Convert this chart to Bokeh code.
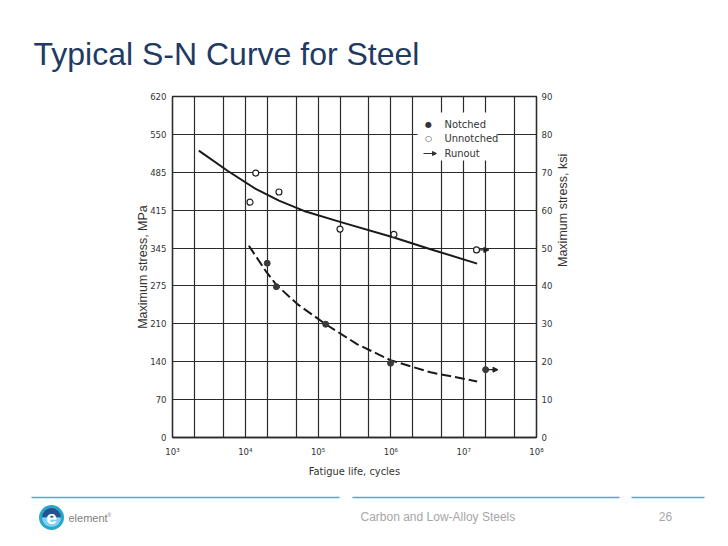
import math

from bokeh.plotting import figure
from bokeh.layouts import column
from bokeh.core.properties import value
from bokeh.models import (Range1d, FixedTicker, LinearAxis, Label, Arrow,
                          NormalHead, BoxAnnotation, ColumnDataSource)
from bokeh.embed import file_html
from bokeh.resources import INLINE

# S-N test results, stress in ksi (left axis shows the MPa equivalents)
unnotched_cycles = [1.16e4, 1.39e4, 2.9e4, 2.0e5, 1.1e6, 1.5e7]
unnotched_ksi = [62.1, 69.8, 64.8, 55.0, 53.6, 49.5]
unnotched_runout = [False, False, False, False, False, True]

notched_cycles = [2.0e4, 2.67e4, 1.27e5, 9.9e5, 2.0e7]
notched_ksi = [46.0, 39.8, 29.9, 19.6, 17.9]
notched_runout = [False, False, False, False, True]

# fitted curves
unnotched_fit_cycles = [2.3e3, 5.7e3, 1.39e4, 2.9e4, 6.4e4, 2.0e5, 1.1e6, 3.5e6, 1.53e7]
unnotched_fit_ksi = [75.7, 70.4, 65.6, 62.5, 59.8, 56.9, 52.8, 49.7, 45.9]

notched_fit_cycles = [1.12e4, 1.9e4, 2.67e4, 5.2e4, 1.27e5, 3.46e5, 9.9e5, 3.5e6, 1.53e7]
notched_fit_ksi = [50.6, 44.0, 40.3, 35.2, 29.9, 24.6, 20.4, 17.2, 14.8]

ksi_ticks = [0, 10, 20, 30, 40, 50, 60, 70, 80, 90]
mpa_labels = ["0", "70", "140", "210", "275", "345", "415", "485", "550", "620"]
decades = [3, 4, 5, 6, 7, 8]
decade_labels = ["10³", "10⁴", "10⁵", "10⁶", "10⁷", "10⁸"]

W = 712
LINE = "#2b2b2b"
TEXT = "#333333"
NARROW = "DejaVu Sans Condensed, Liberation Sans Narrow, Liberation Sans, sans-serif"
SANS = "Liberation Sans"


def blank(height):
    # a bare figure whose data units are pixels, for slide decoration
    f = figure(width=W, height=height, x_range=Range1d(0, W), y_range=Range1d(0, height),
               output_backend="svg", toolbar_location=None, min_border=0,
               x_axis_location=None, y_axis_location=None)
    f.frame_align = False
    f.grid.visible = False
    f.outline_line_color = None
    return f


# slide title
head = blank(76)
head.text(x=[33], y=[23], text=["Typical S-N Curve for Steel"], text_font=value(SANS),
          text_font_size="32px", text_color="#1f3a63", text_baseline="alphabetic")

# main chart
p = figure(width=W, height=409, x_axis_type="log",
           x_range=Range1d(1e3, 1e8), y_range=Range1d(0, 90),
           output_backend="svg", toolbar_location=None,
           min_border_left=172, min_border_right=176,
           min_border_top=20, min_border_bottom=48)
p.frame_align = False
p.outline_line_color = LINE
p.outline_line_width = 1.3

# grid: 1, 2, 5 per decade and every 10 ksi
grid_x = [m * 10 ** d for d in decades[:-1] for m in (1, 2, 5)] + [10 ** decades[-1]]
p.xgrid.ticker = FixedTicker(ticks=grid_x)
p.ygrid.ticker = FixedTicker(ticks=ksi_ticks)
for g in (p.xgrid[0], p.ygrid[0]):
    g.grid_line_color = LINE
    g.grid_line_width = 1.2
    g.grid_line_alpha = 1

xaxis = p.xaxis[0]
left = p.yaxis[0]
xaxis.ticker = FixedTicker(ticks=[10 ** d for d in decades])
xaxis.major_label_overrides = {10 ** d: lab for d, lab in zip(decades, decade_labels)}
xaxis.axis_label = "Fatigue life, cycles"
xaxis.axis_label_text_font = NARROW
xaxis.axis_label_text_font_size = "11px"
xaxis.major_label_standoff = 8
xaxis.axis_label_standoff = 5

left.ticker = FixedTicker(ticks=ksi_ticks)
left.major_label_overrides = {k: lab for k, lab in zip(ksi_ticks, mpa_labels)}
left.axis_label = "Maximum stress, MPa"
left.major_label_standoff = 6
left.axis_label_standoff = -3

right = LinearAxis(ticker=FixedTicker(ticks=ksi_ticks), axis_label="Maximum stress, ksi")
right.major_label_standoff = 5
right.axis_label_standoff = 8
right.axis_label_orientation = math.pi / 2
p.add_layout(right, "right")

for ax in (xaxis, left, right):
    ax.axis_line_color = LINE
    ax.axis_line_width = 1.3
    ax.major_tick_out = 0
    ax.major_tick_in = 0
    ax.minor_tick_out = 0
    ax.minor_tick_in = 0
    ax.major_label_text_font = NARROW
    ax.major_label_text_font_size = "9.5px"
    ax.major_label_text_color = TEXT
    ax.axis_label_text_font_style = "normal"
    ax.axis_label_text_color = TEXT
for ax in (left, right):
    ax.axis_label_text_font = SANS
    ax.axis_label_text_font_size = "12.5px"

# curves
p.line(unnotched_fit_cycles, unnotched_fit_ksi, line_color="#1a1a1a", line_width=2)
p.line(notched_fit_cycles, notched_fit_ksi, line_color="#1a1a1a", line_width=2,
       line_dash="10 4")

# test points
p.scatter(unnotched_cycles, unnotched_ksi, marker="circle", size=6,
          fill_color="white", line_color="#222222", line_width=1.2)
p.scatter(notched_cycles, notched_ksi, marker="circle", size=6,
          fill_color="#3a3a3a", line_color="#3a3a3a")

# runout arrows
ro_x, ro_y = [], []
for c, s, r in zip(unnotched_cycles + notched_cycles, unnotched_ksi + notched_ksi,
                   unnotched_runout + notched_runout):
    if r:
        ro_x.append(c)
        ro_y.append(s)
ro_src = ColumnDataSource(dict(x0=[x * 10 ** 0.04 for x in ro_x],
                               x1=[x * 10 ** 0.17 for x in ro_x], y=ro_y))
p.add_layout(Arrow(end=NormalHead(size=5, fill_color="#222222", line_color="#222222"),
                   x_start="x0", y_start="y", x_end="x1", y_end="y", source=ro_src,
                   line_color="#222222", line_width=1.3))

# legend (screen units relative to the frame)
p.add_layout(BoxAnnotation(left=245, right=325, bottom=277, top=325,
                           left_units="screen", right_units="screen",
                           top_units="screen", bottom_units="screen",
                           fill_color="white", fill_alpha=1, line_color=None))
legend_rows = [("●", "Notched", 313), ("○", "Unnotched", 299)]
for sym, name, yy in legend_rows:
    p.add_layout(Label(x=256, y=yy, x_units="screen", y_units="screen", text=sym,
                       text_align="center", text_baseline="middle",
                       text_font="DejaVu Sans", text_font_size="8px", text_color=TEXT))
    p.add_layout(Label(x=272, y=yy, x_units="screen", y_units="screen", text=name,
                       text_baseline="middle", text_font=NARROW,
                       text_font_size="11px", text_color=TEXT))
p.add_layout(Arrow(end=NormalHead(size=4, fill_color=TEXT, line_color=TEXT),
                   x_start=251, x_end=264, y_start=284, y_end=284,
                   start_units="screen", end_units="screen",
                   line_color=TEXT, line_width=1))
p.add_layout(Label(x=272, y=284, x_units="screen", y_units="screen", text="Runout",
                   text_baseline="middle", text_font=NARROW,
                   text_font_size="11px", text_color=TEXT))

# footer
foot = blank(45)
foot.segment(x0=[31, 352, 631], x1=[339, 619, 704], y0=[33] * 3, y1=[33] * 3,
             line_color="#4bacc6", line_width=1.5)
foot.scatter(x=[51], y=[13], size=25, fill_color="#2ba6cb", line_color=None)
foot.wedge(x=[51], y=[13], radius=9.5, start_angle=0, end_angle=math.pi,
           fill_color="#24528f", line_color=None)
foot.wedge(x=[51], y=[13], radius=9.5, start_angle=math.pi, end_angle=2 * math.pi,
           fill_color="#7fd3ee", line_color=None)
foot.text(x=[51], y=[13], text=["e"], text_align="center", text_baseline="middle",
          text_font=value(SANS), text_font_size="19px", text_font_style="bold",
          text_color="white")
foot.text(x=[68], y=[13], text=["element"], text_font=value(SANS),
          text_font_size="11px", text_color="#7f7f7f", text_baseline="middle")
foot.text(x=[107], y=[16], text=["®"], text_font=value(SANS),
          text_font_size="5px", text_color="#7f7f7f", text_baseline="middle")
foot.text(x=[360], y=[14], text=["Carbon and Low-Alloy Steels"], text_font=value(SANS),
          text_font_size="12px", text_color="#a6a6a6", text_baseline="middle")
foot.text(x=[665], y=[14], text=["26"], text_font=value(SANS), text_font_size="12px",
          text_color="#a6a6a6", text_align="center", text_baseline="middle")

layout = column(head, p, foot, spacing=0)
open("out.html", "w").write(file_html(layout, INLINE))
